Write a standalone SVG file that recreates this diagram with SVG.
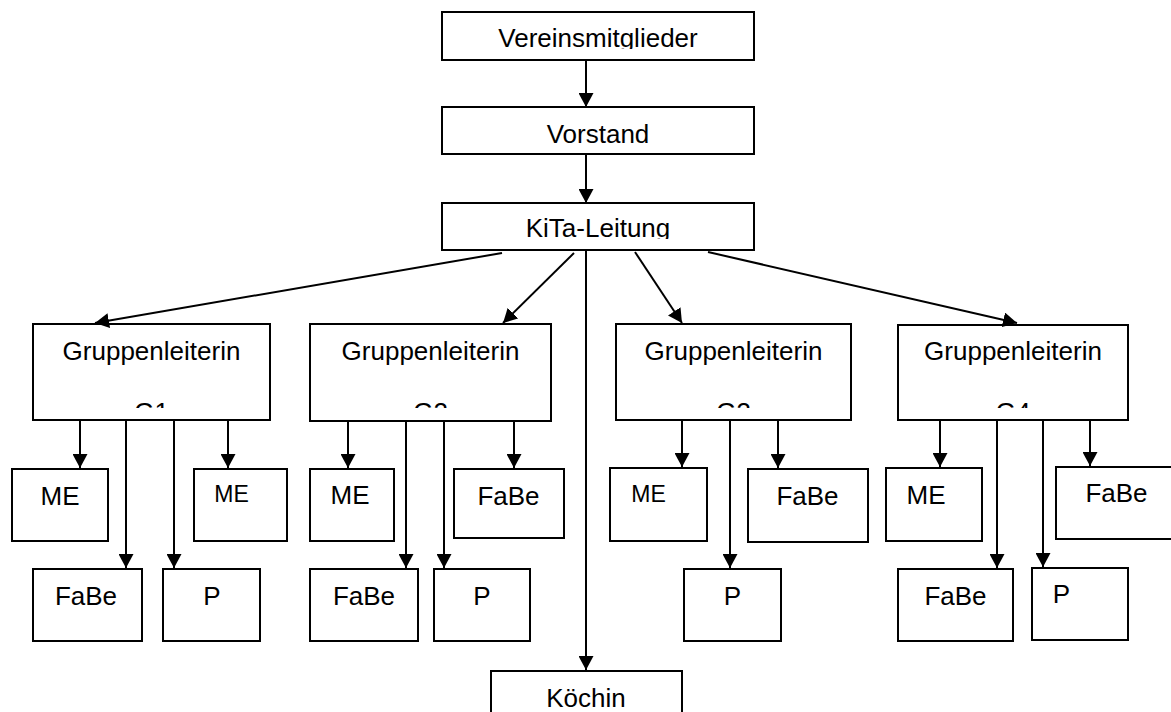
<svg xmlns="http://www.w3.org/2000/svg" width="1171" height="712" viewBox="0 0 1171 712">
<style>
.b{fill:#fff;stroke:#000;stroke-width:2}
.t{font-family:"Liberation Sans",Arial,sans-serif;font-size:26px;fill:#000;text-anchor:middle}
.s{font-size:23px}
.c line{stroke:#000;stroke-width:2;marker-end:url(#a)}
.c line.n{marker-end:none}
</style>
<defs>
<marker id="a" markerUnits="userSpaceOnUse" markerWidth="15" markerHeight="15" refX="14" refY="7.5" orient="auto">
<path d="M0,0 L14,7.5 L0,15 Z" fill="#000"/>
</marker>
<clipPath id="c1"><rect x="0" y="0" width="1171" height="49"/></clipPath>
<clipPath id="c3"><rect x="0" y="200" width="1171" height="39"/></clipPath>
<clipPath id="cg"><rect x="0" y="320" width="1171" height="88"/></clipPath>
</defs>
<g id="n-verein"><rect class="b" x="442" y="12" width="312" height="48"/><text class="t" x="598" y="47" clip-path="url(#c1)">Vereinsmitglieder</text></g>
<g id="n-vorstand"><rect class="b" x="442" y="107" width="312" height="47"/><text class="t" x="598" y="143">Vorstand</text></g>
<g id="n-kita"><rect class="b" x="442" y="203" width="312" height="47"/><text class="t" x="598" y="237" clip-path="url(#c3)">KiTa-Leitung</text></g>
<g id="n-g1"><rect class="b" x="33" y="324" width="237" height="96"/><text class="t" x="151.5" y="360">Gruppenleiterin</text><text class="t" x="151.5" y="421" clip-path="url(#cg)">G1</text></g>
<g id="n-g2"><rect class="b" x="310" y="324" width="241" height="97"/><text class="t" x="430.5" y="360">Gruppenleiterin</text><text class="t" x="430.5" y="421" clip-path="url(#cg)">G2</text></g>
<g id="n-g3"><rect class="b" x="616" y="324" width="235" height="96"/><text class="t" x="733.5" y="360">Gruppenleiterin</text><text class="t" x="733.5" y="421" clip-path="url(#cg)">G3</text></g>
<g id="n-g4"><rect class="b" x="898" y="325" width="230" height="95"/><text class="t" x="1013" y="360">Gruppenleiterin</text><text class="t" x="1013" y="421" clip-path="url(#cg)">G4</text></g>
<g id="n-g1-me1"><rect class="b" x="12" y="469" width="96" height="72"/><text class="t" x="60" y="505">ME</text></g>
<g id="n-g1-me2"><rect class="b" x="194" y="469" width="93" height="72"/><text class="t s" x="231.5" y="502">ME</text></g>
<g id="n-g1-fabe"><rect class="b" x="33" y="569" width="109" height="72"/><text class="t" x="86" y="605">FaBe</text></g>
<g id="n-g1-p"><rect class="b" x="163" y="569" width="97" height="72"/><text class="t" x="212" y="605">P</text></g>
<g id="n-g2-me"><rect class="b" x="310" y="469" width="84" height="72"/><text class="t" x="350" y="504">ME</text></g>
<g id="n-g2-fabe1"><rect class="b" x="454" y="469" width="110" height="69"/><text class="t" x="508.5" y="505">FaBe</text></g>
<g id="n-g2-fabe2"><rect class="b" x="310" y="569" width="108" height="72"/><text class="t" x="364" y="605">FaBe</text></g>
<g id="n-g2-p"><rect class="b" x="434" y="569" width="96" height="72"/><text class="t" x="482" y="605">P</text></g>
<g id="n-g3-me"><rect class="b" x="610" y="468" width="97" height="73"/><text class="t s" x="648.5" y="502">ME</text></g>
<g id="n-g3-fabe"><rect class="b" x="748" y="469" width="120" height="73"/><text class="t" x="807.5" y="505">FaBe</text></g>
<g id="n-g3-p"><rect class="b" x="684" y="569" width="97" height="72"/><text class="t" x="732.5" y="605">P</text></g>
<g id="n-g4-me"><rect class="b" x="886" y="468" width="96" height="73"/><text class="t" x="926" y="504">ME</text></g>
<g id="n-g4-fabe1"><rect class="b" x="1056" y="467" width="124" height="72"/><text class="t" x="1116.5" y="502">FaBe</text></g>
<g id="n-g4-fabe2"><rect class="b" x="898" y="569" width="115" height="72"/><text class="t" x="955.5" y="605">FaBe</text></g>
<g id="n-g4-p"><rect class="b" x="1032" y="568" width="96" height="72"/><text class="t" x="1061.5" y="603">P</text></g>
<g id="n-koechin"><rect class="b" x="491" y="671" width="191" height="50"/><text class="t" x="586" y="707">Köchin</text></g>
<g id="connectors" class="c">
<line x1="586" y1="60" x2="586" y2="107"/>
<line x1="586" y1="154" x2="586" y2="203"/>
<line x1="502" y1="253" x2="95" y2="323"/>
<line x1="574" y1="253" x2="503" y2="323"/>
<line x1="586" y1="250" x2="586" y2="670"/>
<line x1="635" y1="252" x2="682" y2="323"/>
<line x1="708" y1="252" x2="1017" y2="323"/>
<line x1="80" y1="420" x2="80" y2="468"/>
<line x1="126" y1="420" x2="126" y2="568"/>
<line x1="174" y1="420" x2="174" y2="568"/>
<line x1="228" y1="420" x2="228" y2="468"/>
<line x1="348" y1="421" x2="348" y2="468"/>
<line x1="406" y1="421" x2="406" y2="568"/>
<line x1="444" y1="421" x2="444" y2="568"/>
<line x1="514" y1="421" x2="514" y2="468"/>
<line x1="682" y1="420" x2="682" y2="467"/>
<line x1="730" y1="420" x2="730" y2="568"/>
<line x1="778" y1="420" x2="778" y2="468"/>
<line x1="940" y1="420" x2="940" y2="467"/>
<line x1="997" y1="420" x2="997" y2="568"/>
<line x1="1043" y1="420" x2="1043" y2="567"/>
<line x1="1090" y1="420" x2="1090" y2="466"/>
</g>
</svg>
